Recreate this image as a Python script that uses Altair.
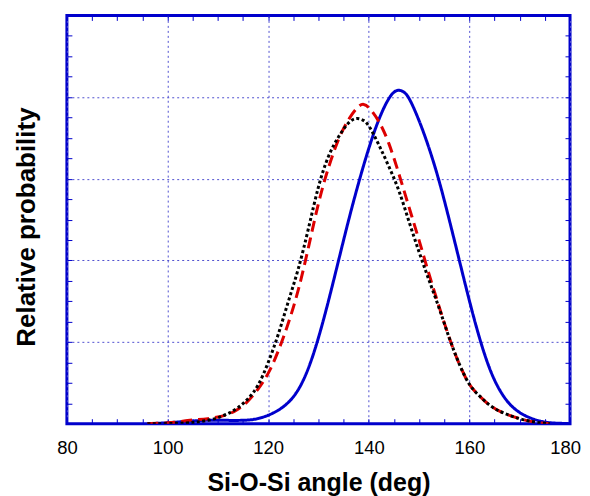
import altair as alt
import pandas as pd

# --- data ---
blue_x = [96, 100, 104, 108, 112, 116, 118, 120, 122, 124, 126, 128, 130, 132, 134, 136, 138, 140, 142, 144,
          145.5, 147, 148, 150, 152, 154, 156, 158, 160, 162, 164, 166, 168, 170, 172, 174, 176, 178, 180]
blue_y = [0, 0.01, 0.03, 0.045, 0.04, 0.04, 0.06, 0.1, 0.16, 0.25, 0.4, 0.66, 1.04, 1.5, 2.0, 2.5, 2.96, 3.38, 3.74, 4.0,
          4.1, 4.07, 4.0, 3.72, 3.38, 2.98, 2.5, 2.0, 1.5, 1.04, 0.66, 0.4, 0.23, 0.13, 0.07, 0.03, 0.01, 0.005, 0]

red_x = [96, 100, 102, 104, 106, 108, 110, 112, 114, 116, 118, 120, 122, 124, 126, 128, 130, 132, 134, 136,
         138, 139, 140, 142, 144, 146, 148, 150, 152, 154, 156, 158, 160, 162, 164, 166, 168, 170, 172, 174, 176]
red_y = [0, 0.01, 0.02, 0.04, 0.05, 0.06, 0.08, 0.11, 0.17, 0.27, 0.42, 0.6, 0.88, 1.22, 1.62, 2.15, 2.72, 3.15, 3.5, 3.74,
         3.9, 3.92, 3.88, 3.72, 3.45, 3.06, 2.65, 2.25, 1.82, 1.43, 1.04, 0.72, 0.46, 0.34, 0.22, 0.15, 0.1, 0.06, 0.03, 0.01, 0]

black_x = [96, 100, 104, 106, 108, 110, 112, 114, 116, 118, 120, 122, 124, 126, 128, 130, 132, 134, 136, 137.5,
           139, 140, 142, 144, 146, 148, 150, 152, 154, 156, 158, 160, 162, 164, 166, 168, 170, 172, 174, 176]
black_y = [0, 0.0, 0.01, 0.02, 0.04, 0.07, 0.12, 0.19, 0.3, 0.45, 0.74, 1.08, 1.5, 1.88, 2.38, 2.93, 3.3, 3.52, 3.7, 3.75,
           3.72, 3.66, 3.42, 3.15, 2.87, 2.47, 2.1, 1.75, 1.42, 1.04, 0.72, 0.46, 0.34, 0.22, 0.15, 0.1, 0.06, 0.03, 0.01, 0]

series_names = ["solid", "dashed", "dotted"]
series_colors = ["#0000CC", "#DD0000", "#000000"]
series_dashes = [[1, 0], [11, 6], [3, 2.5]]

x_labels = [80, 100, 120, 140, 160, 180]
y_grid = [1, 2, 3, 4]
x_minor = list(range(80, 181, 5))
y_minor = [i * 0.25 for i in range(0, 21)]

df = pd.concat([
    pd.DataFrame({"angle": blue_x, "p": blue_y, "series": "solid"}),
    pd.DataFrame({"angle": red_x, "p": red_y, "series": "dashed"}),
    pd.DataFrame({"angle": black_x, "p": black_y, "series": "dotted"}),
], ignore_index=True)

W, H = 504, 409
FRAME = "#0000CC"
GRID = "#5050D0"
FONT = "Liberation Sans"

xs = alt.Scale(domain=[80, 180], nice=False, zero=False)
ys = alt.Scale(domain=[0, 5], nice=False)

base = alt.Chart(df)

lines = base.mark_line(interpolate="basis", strokeWidth=3, clip=True).encode(
    x=alt.X("angle:Q", scale=xs, axis=alt.Axis(
        orient="bottom", values=x_labels, ticks=False, domain=False, labelFlush=False,
        labelOffset={"condition": {"test": "datum.value >= 180", "value": -5}, "value": 0},
        labelFont=FONT, labelFontSize=18.5, labelColor="black", labelPadding=15,
        grid=True, gridColor=GRID, gridDash=[2, 3], gridWidth=1,
        title="Si-O-Si angle (deg)", titleFont=FONT, titleFontSize=25, titleFontWeight="bold",
        titleColor="black", titleBaseline="alphabetic", titleY=66.5)),
    y=alt.Y("p:Q", scale=ys, axis=alt.Axis(
        orient="left", values=y_grid, ticks=False, domain=False, labels=False,
        grid=True, gridColor=GRID, gridDash=[2, 3], gridWidth=1,
        title="Relative probability", titleFont=FONT, titleFontSize=26, titleFontWeight="bold",
        titleColor="black", titleBaseline="alphabetic", titleAlign="center",
        titleX=-32, titleY=211.5)),
    color=alt.Color("series:N", scale=alt.Scale(domain=series_names, range=series_colors), legend=None),
    strokeDash=alt.StrokeDash("series:N", scale=alt.Scale(domain=series_names, range=series_dashes), legend=None),
)


def tick_layer(xo, yo):
    return base.mark_point(opacity=0).encode(
        x=alt.X("angle:Q", scale=xs, axis=alt.Axis(
            orient=xo, offset=-H, values=x_minor, labels=False, domain=False, grid=False,
            ticks=True, tickSize=5, tickColor=FRAME, tickWidth=1, title=None)),
        y=alt.Y("p:Q", scale=ys, axis=alt.Axis(
            orient=yo, offset=-W, values=y_minor, labels=False, domain=False, grid=False,
            ticks=True, tickSize=5, tickColor=FRAME, tickWidth=1, title=None)),
    )


chart = alt.layer(
    lines, tick_layer("top", "right"), tick_layer("bottom", "left")
).resolve_axis(x="independent", y="independent").properties(
    width=W, height=H,
    autosize=alt.AutoSizeParams(type="none"),
    padding={"left": 59, "top": 7, "right": 12, "bottom": 72},
    background="white",
).configure_view(stroke=FRAME, strokeWidth=3)

chart.save("out.html", embed_options={"renderer": "svg", "actions": False})
